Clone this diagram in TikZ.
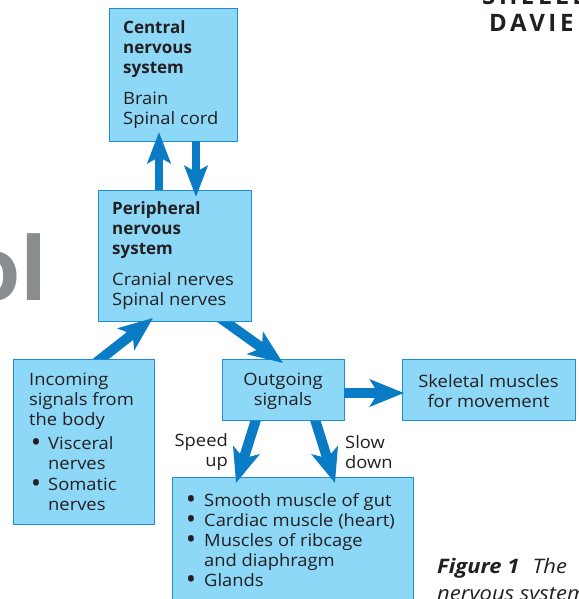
\documentclass[tikz,border=0pt]{standalone}
\usepackage{fontspec}
\setmainfont{Open Sans}[UprightFeatures={FakeStretch=1.08}, BoldFeatures={FakeStretch=1.0}]
\newfontfamily\capfont{Open Sans}[FakeStretch=1.1]
\newfontfamily\headfont{Open Sans}[LetterSpace=15]
\usetikzlibrary{arrows.meta,calc}
\definecolor{boxfill}{HTML}{8DD7F7}
\definecolor{boxline}{HTML}{1F8DD6}
\definecolor{arrowblue}{HTML}{0A7CC5}
\definecolor{ink}{HTML}{231F20}
\definecolor{biggray}{HTML}{8A8D90}
\newcommand{\mybullet}{\makebox[17pt][l]{\fontsize{21}{20}\selectfont\bfseries •}}
\tikzset{
  boxpos/.style={rectangle, inner sep=0pt, outer sep=0pt, anchor=north west},
  boxdraw/.style={fill=boxfill, draw=boxline, line width=1pt},
  txt/.style={inner sep=0pt, text=ink, align=left, font=\fontsize{17}{20}\selectfont},
  ctxt/.style={txt, align=center},
  bigarrow/.style={draw=arrowblue, line width=10pt,
    -{Stealth[length=34pt, width=27pt, inset=8pt]}},
  smallarrow/.style={draw=arrowblue, line width=8pt,
    -{Stealth[length=31pt, width=23pt, inset=6pt]}},
}
\begin{document}
\begin{tikzpicture}[x=1pt, y=-1pt]
\useasboundingbox (0,0) rectangle (578,599);
\clip (0,0) rectangle (578,599);

% box positions (named)
\path node[boxpos, minimum width=128pt, minimum height=132pt] (cns) at (109,9) {};
\path node[boxpos, minimum width=153pt, minimum height=131pt] (pns) at (98,190) {};
\path node[boxpos, minimum width=141pt, minimum height=165pt] (inc) at (13,359) {};
\path node[boxpos, minimum width=122pt, minimum height=61pt] (out) at (222,359) {};
\path node[boxpos, minimum width=173pt, minimum height=61pt] (skel) at (402,359) {};
\path node[boxpos, minimum width=241pt, minimum height=126pt] (bot) at (172,477) {};

% background texts
\node[inner sep=0pt, anchor=base east, text=biggray, font=\fontsize{88}{88}\selectfont\bfseries] (ol) at (48,300) {ol};
\node[inner sep=0pt, anchor=base west, text=ink, font=\fontsize{24}{27}\selectfont\headfont\bfseries] (shel) at (482,5) {SHELLE};
\node[inner sep=0pt, anchor=base west, text=ink, font=\fontsize{24}{27}\selectfont\headfont\bfseries] (davi) at (489,32) {DAVIE};
\node[inner sep=0pt, anchor=base west, text=ink, font=\capfont\fontsize{20}{26}\selectfont\itshape] (cap1) at (437,573) {\textbf{Figure 1}\hspace{13pt}The};
\node[inner sep=0pt, anchor=base west, text=ink, font=\capfont\fontsize{20}{26}\selectfont\itshape] (cap2) at (437,600) {nervous system};

% layered drawing
\draw[boxdraw] (bot.north west) rectangle (bot.south east);
\draw[boxdraw] (cns.north west) rectangle (cns.south east);
\draw[boxdraw] (skel.north west) rectangle (skel.south east);

\draw[bigarrow] ($(out.south west)+(37,-10)$) -- ($(bot.north west)+(64,6)$);
\draw[bigarrow] ($(out.south west)+(90,-10)$) -- ($(bot.north west)+(163,6)$);

\draw[boxdraw] (out.north west) rectangle (out.south east);

\draw[bigarrow] ($(pns.south west)+(118,-6)$) -- ($(out.north west)+(61,4)$);

\draw[boxdraw] (pns.north west) rectangle (pns.south east);

\draw[bigarrow] ($(inc.north west)+(80,6)$) -- ($(pns.south west)+(55,-3)$);

\draw[boxdraw] (inc.north west) rectangle (inc.south east);

\draw[smallarrow] ($(pns.north west)+(61,0)$) -- ($(cns.south west)+(50,-9)$);
\draw[smallarrow] ($(cns.south west)+(87,0)$) -- ($(pns.north west)+(98,7)$);
\draw[bigarrow] ($(out.north east)+(0,34)$) -- ($(skel.north west)+(2,34)$);

% box texts
\node[txt, anchor=west] (cnst) at ($(cns.west)+(14,0)$)
  {\textbf{Central}\\\textbf{nervous}\\\textbf{system}\\[11pt]Brain\\Spinal cord};
\node[txt, anchor=west] (pnst) at ($(pns.west)+(14,0)$)
  {\textbf{Peripheral}\\\textbf{nervous}\\\textbf{system}\\[11pt]Cranial nerves\\Spinal nerves};
\node[txt, anchor=west] (inct) at ($(inc.west)+(16,0)$)
  {Incoming\\signals from\\the body\\[4pt]\hspace*{3pt}\makebox[16pt][l]{\fontsize{21}{20}\selectfont\bfseries •}Visceral\\\hspace*{19pt}nerves\\[1pt]\hspace*{3pt}\makebox[16pt][l]{\fontsize{21}{20}\selectfont\bfseries •}Somatic\\\hspace*{19pt}nerves};
\node[ctxt] (outt) at ($(out.center)+(0,2)$) {Outgoing\\signals};
\node[ctxt] (skelt) at ($(skel.center)+(0,2)$) {Skeletal muscles\\for movement};
\node[txt, anchor=west] (bott) at ($(bot.west)+(15,0)$)
  {\mybullet Smooth muscle of gut\\\mybullet Cardiac muscle (heart)\\\mybullet Muscles of ribcage\\\hspace*{17pt}and diaphragm\\\mybullet Glands};

% arrow labels
\node[txt, align=right, anchor=east] (speed) at (228,452) {Speed\\up};
\node[txt, anchor=west] (slow) at (345,452) {Slow\\down};
\end{tikzpicture}
\end{document}
